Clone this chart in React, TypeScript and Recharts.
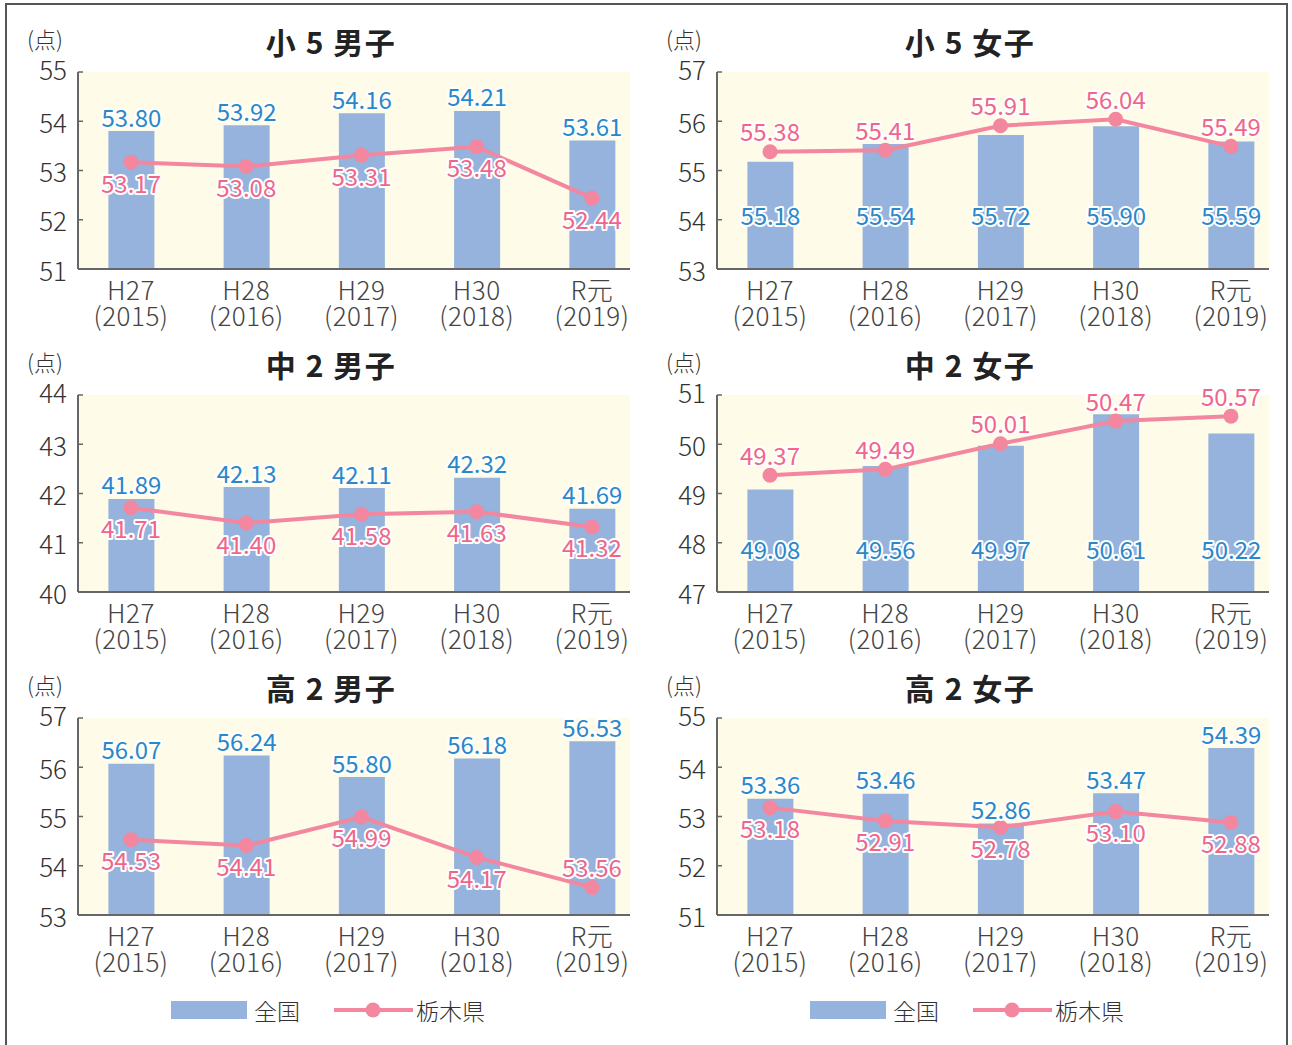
import React from 'react';
import { ComposedChart, Bar, Line, XAxis, YAxis, CartesianGrid, LabelList } from 'recharts';

const years = ['H27', 'H28', 'H29', 'H30', 'R元'];
const yearsAD = ['(2015)', '(2016)', '(2017)', '(2018)', '(2019)'];
const slots = [0, 1, 2, 3, 4];

const sho5BoysNational = [53.8, 53.92, 54.16, 54.21, 53.61];
const sho5BoysTochigi = [53.17, 53.08, 53.31, 53.48, 52.44];
const sho5GirlsNational = [55.18, 55.54, 55.72, 55.9, 55.59];
const sho5GirlsTochigi = [55.38, 55.41, 55.91, 56.04, 55.49];
const chu2BoysNational = [41.89, 42.13, 42.11, 42.32, 41.69];
const chu2BoysTochigi = [41.71, 41.4, 41.58, 41.63, 41.32];
const chu2GirlsNational = [49.08, 49.56, 49.97, 50.61, 50.22];
const chu2GirlsTochigi = [49.37, 49.49, 50.01, 50.47, 50.57];
const ko2BoysNational = [56.07, 56.24, 55.8, 56.18, 56.53];
const ko2BoysTochigi = [54.53, 54.41, 54.99, 54.17, 53.56];
const ko2GirlsNational = [53.36, 53.46, 52.86, 53.47, 54.39];
const ko2GirlsTochigi = [53.18, 52.91, 52.78, 53.1, 52.88];

const sho5BoysTicks = [51, 52, 53, 54, 55];
const sho5GirlsTicks = [53, 54, 55, 56, 57];
const chu2BoysTicks = [40, 41, 42, 43, 44];
const chu2GirlsTicks = [47, 48, 49, 50, 51];
const ko2BoysTicks = [53, 54, 55, 56, 57];
const ko2GirlsTicks = [51, 52, 53, 54, 55];

const FONT = '"Noto Sans CJK JP", "Noto Sans", sans-serif';
const BAR = '#95b3dc';
const BG = '#fefbe9';
const PINK = '#f2879f';
const PINK_TEXT = '#ef668b';
const BLUE_TEXT = '#2b88c8';
const AXIS = '#666';

type Panel = {
  title: string;
  national: number[];
  tochigi: number[];
  ticks: number[];
  col: number;
  row: number;
  natInside?: number; // px above the baseline when the national label sits inside the bar
  tochigiAbove?: number[]; // indexes whose 栃木県 label sits above the point
};

const panels: Panel[] = [
  { title: '小 5 男子', national: sho5BoysNational, tochigi: sho5BoysTochigi, ticks: sho5BoysTicks, col: 0, row: 0 },
  { title: '小 5 女子', national: sho5GirlsNational, tochigi: sho5GirlsTochigi, ticks: sho5GirlsTicks, col: 1, row: 0, natInside: 55, tochigiAbove: [0, 1, 2, 3, 4] },
  { title: '中 2 男子', national: chu2BoysNational, tochigi: chu2BoysTochigi, ticks: chu2BoysTicks, col: 0, row: 1 },
  { title: '中 2 女子', national: chu2GirlsNational, tochigi: chu2GirlsTochigi, ticks: chu2GirlsTicks, col: 1, row: 1, natInside: 44, tochigiAbove: [0, 1, 2, 3, 4] },
  { title: '高 2 男子', national: ko2BoysNational, tochigi: ko2BoysTochigi, ticks: ko2BoysTicks, col: 0, row: 2, tochigiAbove: [4] },
  { title: '高 2 女子', national: ko2GirlsNational, tochigi: ko2GirlsTochigi, ticks: ko2GirlsTicks, col: 1, row: 2 },
];

const COL_W = 639;
const ROW_H = 323;

const halo = { stroke: '#fff', strokeWidth: 4, paintOrder: 'stroke' as const, strokeLinejoin: 'round' as const };

const XTick = (props: any) => {
  const { x, y, payload } = props;
  const i = payload.value;
  const t = { textAnchor: 'middle' as const, dominantBaseline: 'central' as const, fill: '#444', fontSize: 26, fontWeight: 300, fontFamily: FONT, letterSpacing: 0.5 };
  return (
    <g>
      <text x={x} y={y + 19} {...t}>{years[i]}</text>
      <text x={x} y={y + 45} {...t}>{yearsAD[i]}</text>
    </g>
  );
};

const makeYTick = (top: number) => (props: any) => {
  const { x, y, payload } = props;
  const shift = payload.value === top ? -4 : 0;
  return (
    <g>
      <line x1={x + 11} x2={x + 16} y1={y} y2={y} stroke={AXIS} strokeWidth={1.5} />
      <text x={x} y={y + shift} textAnchor="end" dominantBaseline="central" fill="#333" fontSize={26} fontWeight={300} fontFamily={FONT}>{payload.value}</text>
    </g>
  );
};

const ChartPanel = ({ p }: { p: Panel }) => {
  const data = slots.map((s, i) => ({ x: s, national: p.national[i], tochigi: p.tochigi[i] }));
  const barLabel = (lp: any) => {
    const { x, y, width, height, value } = lp;
    const cy = p.natInside ? y + height - p.natInside : y - 15;
    return (
      <text x={x + width / 2} y={cy} textAnchor="middle" dominantBaseline="central" fill={BLUE_TEXT} fontSize={24} fontFamily={FONT} {...halo}>
        {Number(value).toFixed(2)}
      </text>
    );
  };
  const lineLabel = (lp: any) => {
    const { x, y, value, index } = lp;
    const above = (p.tochigiAbove ?? []).includes(index);
    const cy = above ? y - 21 : y + 20;
    return (
      <text x={x} y={cy} textAnchor="middle" dominantBaseline="central" fill={PINK_TEXT} fontSize={24} fontFamily={FONT} {...halo}>
        {Number(value).toFixed(2)}
      </text>
    );
  };
  const left = p.col * COL_W;
  const top = p.row * ROW_H;
  return (
    <>
      <div style={{ position: 'absolute', left: left + 27, top: top + 27, fontSize: 22, fontWeight: 300, color: '#333', fontFamily: FONT, lineHeight: 1 }}>(点)</div>
      <div style={{ position: 'absolute', left: left + 231, width: 200, textAlign: 'center', top: top + 26, fontSize: 30, fontWeight: 700, letterSpacing: 1.5, color: '#222', fontFamily: FONT, lineHeight: 1, whiteSpace: 'pre' }}>{p.title}</div>
      <div style={{ position: 'absolute', left, top }}>
        <ComposedChart width={640} height={340} data={data} margin={{ top: 72, right: 10, bottom: 11, left: 0 }}>
          <CartesianGrid horizontal={false} vertical={false} fill={BG} />
          <XAxis
            type="number"
            dataKey="x"
            domain={[-0.46, 4.33]}
            ticks={slots}
            interval={0}
            height={60}
            tickSize={0}
            tickMargin={0}
            tick={<XTick />}
            axisLine={{ stroke: AXIS, strokeWidth: 2 }}
            tickLine={false}
            allowDataOverflow
          />
          <YAxis
            type="number"
            domain={[p.ticks[0], p.ticks[p.ticks.length - 1]]}
            ticks={p.ticks}
            interval={0}
            width={78}
            tickSize={0}
            tickMargin={11}
            tick={makeYTick(p.ticks[p.ticks.length - 1])}
            axisLine={{ stroke: AXIS, strokeWidth: 2 }}
            tickLine={false}
            allowDataOverflow
          />
          <Bar dataKey="national" fill={BAR} barSize={46} isAnimationActive={false}>
            <LabelList dataKey="national" content={barLabel} />
          </Bar>
          <Line
            type="linear"
            dataKey="tochigi"
            stroke={PINK}
            strokeWidth={4}
            dot={{ r: 7.5, fill: PINK, stroke: 'none' }}
            activeDot={false}
            isAnimationActive={false}
          >
            <LabelList dataKey="tochigi" content={lineLabel} />
          </Line>
        </ComposedChart>
      </div>
    </>
  );
};

const LegendBlock = ({ left }: { left: number }) => (
  <svg style={{ position: 'absolute', left, top: 990 }} width={340} height={40}>
    <rect x={0} y={11} width={76} height={18} fill={BAR} />
    <text x={83} y={20} dominantBaseline="central" fontSize={23} fontWeight={300} fill="#333" fontFamily={FONT}>全国</text>
    <line x1={163} x2={242} y1={20} y2={20} stroke={PINK} strokeWidth={4} />
    <circle cx={202} cy={20} r={7.5} fill={PINK} />
    <text x={245} y={20} dominantBaseline="central" fontSize={23} fontWeight={300} fill="#333" fontFamily={FONT}>栃木県</text>
  </svg>
);

export default function App() {
  return (
    <div style={{ position: 'fixed', left: 0, top: 0, width: 1292, height: 1045, overflow: 'hidden', background: '#fff' }}>
      <div style={{ position: 'absolute', left: 5, top: 3, width: 1283, height: 1060, border: '2px solid #555', boxSizing: 'border-box' }} />
      {panels.map((p) => (
        <ChartPanel key={p.title} p={p} />
      ))}
      <LegendBlock left={171} />
      <LegendBlock left={810} />
    </div>
  );
}
